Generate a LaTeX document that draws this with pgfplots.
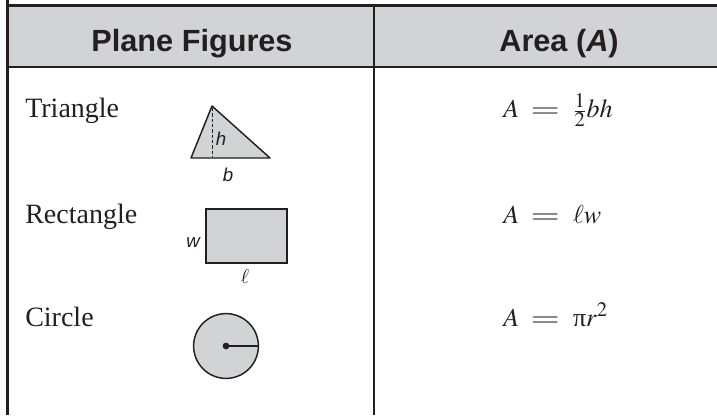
\documentclass[border=0pt]{standalone}
\usepackage{mathptmx}
\usepackage[no-math]{fontspec}
\setmainfont{Liberation Serif}
\newfontfamily\hv{Liberation Sans}
\usepackage{pgfplots}
\pgfplotsset{compat=1.18}
\DeclareMathSizes{19.5}{19.5}{15.5}{11}
\definecolor{ink}{HTML}{231F20}
\definecolor{hdr}{HTML}{D1D3D4}
\newcommand{\eq}{\mskip 4mu\mathrel{\scalebox{1.45}[1]{$=$}}\mskip 5mu}
\begin{document}
\begin{tikzpicture}
\begin{axis}[width=537.75pt,height=311.25pt,scale only axis,set layers,
  xmin=0,xmax=717,ymin=0,ymax=415,y dir=reverse,hide axis,clip=false]
% header band
\addplot[fill=hdr,draw=none,mark=none] coordinates {(7,5)(717,5)(717,67)(7,67)} -- cycle;
% rules
\addplot[ink,line width=2.2pt,mark=none] coordinates {(6,5.5)(717,5.5)};
\addplot[ink,line width=1.95pt,mark=none] coordinates {(7.3,0)(7.3,415)};
\addplot[ink,line width=1.95pt,mark=none] coordinates {(7,67)(717,67)};
\addplot[ink,line width=2.2pt,mark=none] coordinates {(374,5)(374,415)};
% header text
\node[font=\hv\bfseries\fontsize{23}{26}\selectfont,anchor=base,inner sep=0,text=ink] at (axis cs:192,52) {Plane Figures};
\node[font=\hv\bfseries\fontsize{23}{26}\selectfont,anchor=base,inner sep=0,text=ink] at (axis cs:559,52) {Area (\textit{A})};
% row labels
\node[font=\fontsize{21}{24}\selectfont,anchor=base west,inner sep=0,text=ink] at (axis cs:25,118) {Triangle};
\node[font=\fontsize{21}{24}\selectfont,anchor=base west,inner sep=0,text=ink] at (axis cs:25,223) {Rectangle};
\node[font=\fontsize{21}{24}\selectfont,anchor=base west,inner sep=0,text=ink] at (axis cs:25,326) {Circle};
% formulas
\node[font=\fontsize{19.5}{22}\selectfont,anchor=base west,inner sep=0,text=ink] at (axis cs:503,118) {$A \eq \frac{1}{2}bh$};
\node[font=\fontsize{19.5}{22}\selectfont,anchor=base west,inner sep=0,text=ink] at (axis cs:503,223) {$A \eq \ell w$};
\node[font=\fontsize{19.5}{22}\selectfont,anchor=base west,inner sep=0,text=ink] at (axis cs:503,326) {$A \eq \mbox{π}r^{2}$};
% triangle
\addplot[fill=hdr,draw=ink,line width=1.1pt,mark=none,line join=round] coordinates {(191,158)(212,106)(270,158)} -- cycle;
\addplot[ink,line width=0.7pt,dash pattern=on 2.5pt off 1.5pt,mark=none] coordinates {(212,108)(212,157)};
\node[font=\hv\itshape\fontsize{14}{16}\selectfont,anchor=base west,inner sep=0,text=ink] at (axis cs:215.5,145) {h};
\node[font=\hv\itshape\fontsize{14}{16}\selectfont,anchor=base,inner sep=0,text=ink] at (axis cs:228,181) {b};
% rectangle
\addplot[fill=hdr,draw=ink,line width=1.1pt,mark=none] coordinates {(206,209)(287,209)(287,263)(206,263)} -- cycle;
\node[font=\hv\itshape\fontsize{14}{16}\selectfont,anchor=base,inner sep=0,text=ink] at (axis cs:193,247) {w};
\node[font=\fontsize{15}{17}\selectfont,anchor=base,inner sep=0,text=ink] at (axis cs:245,283) {$\ell$};
% circle
\addplot[only marks,mark=*,mark size=24.3pt,mark options={fill=hdr,draw=ink,line width=1.1pt},on layer=axis background] coordinates {(226,346)};
\addplot[ink,line width=1.1pt,mark=none,on layer=axis foreground] coordinates {(226,346)(259,346)};
\addplot[only marks,mark=*,mark size=2.3pt,mark options={fill=ink,draw=ink},on layer=axis foreground] coordinates {(226,346)};
\node[font=\hv\itshape\fontsize{14}{16}\selectfont,anchor=base,inner sep=0,text=ink] at (axis cs:242,342) {r};
\end{axis}
\pgfresetboundingbox
\path[use as bounding box] (current axis.south west) rectangle (current axis.north east);
\end{tikzpicture}
\end{document}
